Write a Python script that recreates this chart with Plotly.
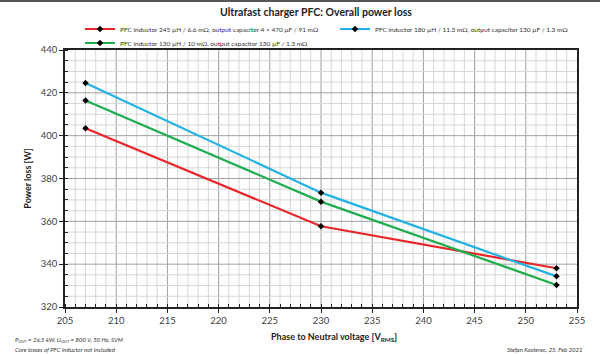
import plotly.graph_objects as go

# ---- data ----
voltage = [207, 230, 253]
loss_245uH = [403.5, 357.7, 338.1]
loss_180uH = [424.6, 373.4, 334.3]
loss_130uH = [416.4, 369.2, 330.3]

names = [
    "PFC inductor 245 µH / 6.6 mΩ, output capacitor 4 × 470 µF / 91 mΩ",
    "PFC inductor 180 µH / 11.3 mΩ, output capacitor 130 µF / 1.3 mΩ",
    "PFC inductor 130 µH / 10 mΩ, output capacitor 130 µF / 1.3 mΩ",
]
colors = ["#e8262a", "#22b1e4", "#20ad4e"]

x_range = [205, 255]
y_range = [320, 440]
x_major, x_minor = 5, 1
y_major, y_minor = 20, 5

W, H = 600, 354
L, R, T, B = 65, 577, 50, 307


def px(x):
    return (x - L) / (R - L)


def py(y):
    return (B - y) / (B - T)


FONT = "Lato"
fig = go.Figure()
series = [loss_245uH, loss_180uH, loss_130uH]
legends = ["legend", "legend3", "legend2"]
for s, n, c, lg in zip(series, names, colors, legends):
    fig.add_trace(go.Scatter(
        x=voltage, y=s, name=n, mode="lines+markers",
        line=dict(color=c, width=2.2),
        marker=dict(color="black", size=5, symbol="diamond"),
        legend=lg,
    ))

# grid drawn as background shapes following the axis ranges
shapes = []
for v in range(x_range[0] + x_minor, x_range[1], x_minor):
    major = (v - x_range[0]) % x_major == 0
    shapes.append(dict(type="line", xref="x", yref="paper", x0=v, x1=v, y0=0, y1=1,
                       layer="below",
                       line=dict(color="#a0a0a0" if major else "#d6d6d6", width=1)))
for w in range(y_range[0] + y_minor, y_range[1], y_minor):
    major = (w - y_range[0]) % y_major == 0
    shapes.append(dict(type="line", xref="paper", yref="y", x0=0, x1=1, y0=w, y1=w,
                       layer="below",
                       line=dict(color="#a0a0a0" if major else "#d6d6d6", width=1)))
shapes.append(dict(type="line", xref="paper", yref="paper",
                   x0=px(0), x1=px(W), y0=py(1), y1=py(1),
                   line=dict(color="#555555", width=2)))

axis_common = dict(
    showline=True, linecolor="#222222", linewidth=1.6, mirror=True,
    ticks="outside", ticklen=4, tickcolor="#222222", tickwidth=1.2,
    showgrid=False, zeroline=False,
    tickfont=dict(family=FONT, size=9.5, color="#404040"),
)
fig.update_xaxes(range=x_range, dtick=x_major, tick0=x_range[0],
                 minor=dict(dtick=x_minor, ticks="inside", ticklen=3,
                            tickcolor="#222222", tickwidth=1, showgrid=False),
                 **axis_common)
fig.update_yaxes(
    range=y_range, dtick=y_major, tick0=y_range[0],
    minor=dict(dtick=y_minor, ticks="inside", ticklen=3,
               tickcolor="#222222", tickwidth=1, showgrid=False),
    title=dict(text="<b>Power loss [W]</b>", font=dict(family=FONT, size=9, color="#222222"), standoff=8),
    **axis_common,
)

leg_common = dict(
    orientation="h", xanchor="left", yanchor="middle",
    font=dict(family=FONT, size=6.5, color="#333333"),
    bgcolor="rgba(0,0,0,0)", borderwidth=0,
    itemwidth=30, tracegroupgap=0,
)
fig.update_layout(
    width=W, height=H,
    margin=dict(l=L, r=W - R, t=T, b=H - B),
    paper_bgcolor="white", plot_bgcolor="white",
    showlegend=True,
    legend=dict(x=px(80), y=py(29), **leg_common),
    legend3=dict(x=px(335), y=py(29), **leg_common),
    legend2=dict(x=px(80), y=py(43), **leg_common),
    title=dict(text="<b>Ultrafast charger PFC: Overall power loss</b>",
               x=316 / W, xref="container", xanchor="center",
               y=1 - 12 / H, yref="container", yanchor="middle",
               font=dict(family=FONT, size=10.5, color="#222222")),
    annotations=[
        dict(text="<b>Phase to Neutral voltage [V<sub>RMS</sub>]</b>",
             x=px(334), y=py(337), xref="paper", yref="paper",
             showarrow=False, xanchor="center", yanchor="middle",
             font=dict(family=FONT, size=9, color="#222222")),
        dict(text="<i>P<sub>OUT</sub> = 26.5 kW, U<sub>OUT</sub> = 800 V, 50 Hz, SVM</i>",
             x=px(13), y=py(340), xref="paper", yref="paper",
             showarrow=False, xanchor="left", yanchor="middle",
             font=dict(family=FONT, size=6, color="#333333")),
        dict(text="<i>Core losses of PFC inductor not included</i>",
             x=px(13), y=py(349), xref="paper", yref="paper",
             showarrow=False, xanchor="left", yanchor="middle",
             font=dict(family=FONT, size=6, color="#333333")),
        dict(text="<i>Stefan Kosterec, 25. Feb 2021</i>",
             x=px(585), y=py(349), xref="paper", yref="paper",
             showarrow=False, xanchor="right", yanchor="middle",
             font=dict(family=FONT, size=6, color="#333333")),
    ],
    shapes=shapes,
)

fig.write_html("out.html")
